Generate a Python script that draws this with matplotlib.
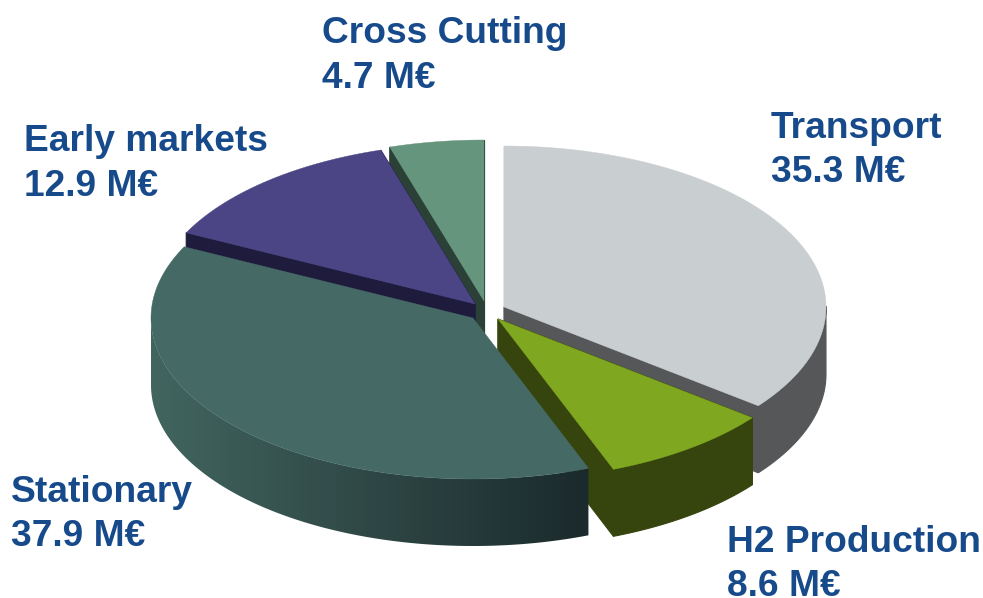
import numpy as np
import matplotlib
matplotlib.use("Agg")
import matplotlib.pyplot as plt
from matplotlib.colors import to_rgb
from matplotlib.patches import Polygon

categories = ["Transport", "H2 Production", "Stationary", "Early markets", "Cross Cutting"]
values = [35.3, 8.6, 37.9, 12.9, 4.7]
value_labels = ["35.3 M€", "8.6 M€", "37.9 M€", "12.9 M€", "4.7 M€"]

# Layout and styles (pixel space of the picture)
W, H = 983, 598
RX, RY, DEPTH = 322, 161, 67
apexes = [(504, 307), (498, 319), (473, 318), (475, 304), (484, 301)]
top_colors = ["#c9ced1", "#7fa820", "#456a66", "#4b4585", "#65957c"]
side_left = ["#555759", "#36440d", "#42655f", "#1f1b3c", "#2b4036"]
side_right = ["#555759", "#36440d", "#1b2a2c", "#1f1b3c", "#2b4036"]
draw_order = [0, 1, 4, 3, 2]
label_pos = [(771, 138), (727, 552), (11, 502), (24, 151), (322, 43)]
TEXT = "#174a8b"
FS = 26.7
LINE = 44.5

fig = plt.figure(figsize=(W / 100, H / 100), dpi=100)
ax = fig.add_axes([0, 0, 1, 1])
ax.set_xlim(0, W)
ax.set_ylim(H, 0)
ax.axis("off")

edges = np.concatenate([[0], np.cumsum(values)]) / np.sum(values) * 2 * np.pi


def rim(i, n=400):
    t = np.linspace(edges[i], edges[i + 1], n)
    return t, apexes[i][0] + RX * np.sin(t), apexes[i][1] - RY * np.cos(t)


z = 1
for i in draw_order:
    t, x, y = rim(i)
    cx, cy = apexes[i]
    # outer wall
    vis = np.cos(t) <= 0.01
    if vis.any():
        vx, vy = x[vis], y[vis]
        pts = np.c_[np.r_[vx, vx[::-1]], np.r_[vy, vy[::-1] + DEPTH]]
        if side_left[i] == side_right[i]:
            ax.add_patch(Polygon(pts, closed=True, fc=side_left[i], ec=side_left[i],
                                 lw=0.8, zorder=z))
        else:
            a, b = np.array(to_rgb(side_left[i])), np.array(to_rgb(side_right[i]))
            f = np.linspace(0, 1, 256)[:, None]
            grad = (a + (b - a) * f)[None, :, :]
            im = ax.imshow(grad, extent=(vx.min(), vx.max(), vy.max() + DEPTH, vy.min()),
                           aspect="auto", interpolation="bilinear", zorder=z)
            clip = Polygon(pts, closed=True, transform=ax.transData)
            im.set_clip_path(clip)
        z += 1
    # radial walls
    for px, py in ((x[0], y[0]), (x[-1], y[-1])):
        if i == 2:
            continue  # hidden under the top face, and would cover the shaded wall's end
        ax.fill([cx, px, px, cx], [cy, py, py + DEPTH, cy + DEPTH],
                color=side_left[i], lw=0.8, zorder=z)
        z += 1
    # top face
    ax.fill(np.r_[cx, x], np.r_[cy, y], color=top_colors[i], lw=0.3, zorder=z)
    z += 1

ax.set_xlim(0, W)
ax.set_ylim(H, 0)

for name, val, (lx, ly) in zip(categories, value_labels, label_pos):
    for k, s in enumerate((name, val)):
        ax.text(lx, ly + k * LINE, s, color=TEXT, fontsize=FS, fontweight="bold",
                family="Liberation Sans", ha="left", va="baseline", zorder=z)

fig.savefig("out.png", dpi=100, facecolor="white")
